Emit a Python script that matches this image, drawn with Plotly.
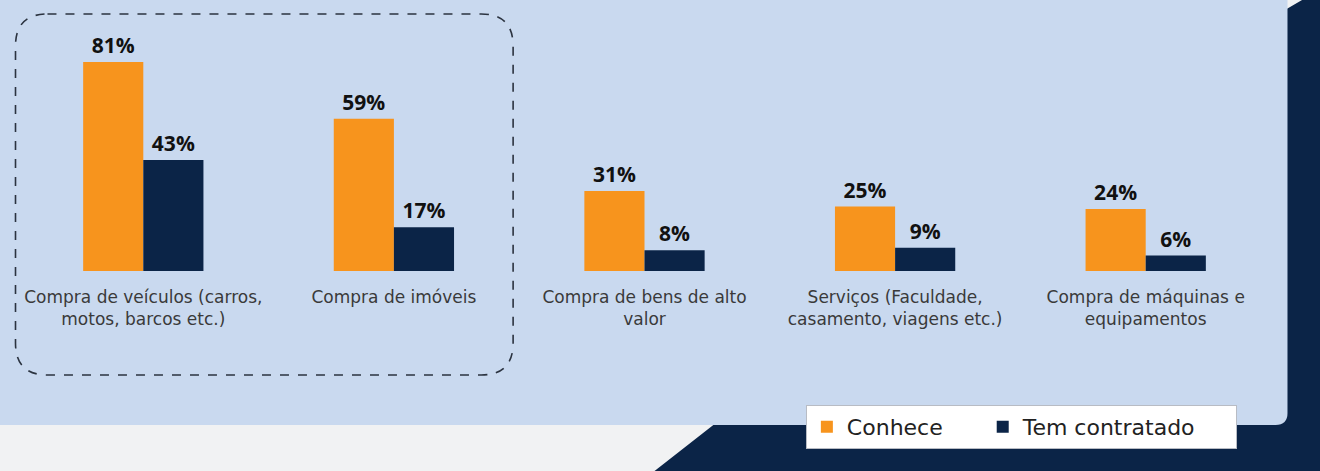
import plotly.graph_objects as go

# dados
categorias = [
    "Compra de veículos (carros,<br>motos, barcos etc.)",
    "Compra de imóveis",
    "Compra de bens de alto<br>valor",
    "Serviços (Faculdade,<br>casamento, viagens etc.)",
    "Compra de máquinas e<br>equipamentos",
]
conhece = [81, 59, 31, 25, 24]
tem_contratado = [43, 17, 8, 9, 6]

LARANJA = "#f7941d"
AZUL = "#0b2447"

W, H = 1320, 471
L, R, T, B = 17.5, 1271.5, 20, 271  # area do grafico em pixels


def px(x, y):
    # pixel -> coordenadas paper
    return (x - L) / (R - L), (B - y) / (B - T)


def caminho(pontos):
    s = ""
    for i, (x, y) in enumerate(pontos):
        a, b = px(x, y)
        s += ("M" if i == 0 else "L") + f"{a:.5f},{b:.5f} "
    return s + "Z"


def ret_arredondado(x0, y0, x1, y1, r):
    def p(x, y):
        a, b = px(x, y)
        return f"{a:.5f},{b:.5f}"
    return (f"M{p(x0 + r, y0)} L{p(x1 - r, y0)} Q{p(x1, y0)} {p(x1, y0 + r)} "
            f"L{p(x1, y1 - r)} Q{p(x1, y1)} {p(x1 - r, y1)} "
            f"L{p(x0 + r, y1)} Q{p(x0, y1)} {p(x0, y1 - r)} "
            f"L{p(x0, y0 + r)} Q{p(x0, y0)} {p(x0 + r, y0)} Z")


fig = go.Figure()
fig.add_bar(x=categorias, y=conhece, name="Conhece" + "\u00a0" * 5, marker_color=LARANJA,
            text=[f"{v}%" for v in conhece], textposition="outside")
fig.add_bar(x=categorias, y=tem_contratado, name="Tem contratado" + "\u00a0" * 5,
            marker_color=AZUL,
            text=[f"{v}%" for v in tem_contratado], textposition="outside")
fig.update_traces(marker_line_width=0, cliponaxis=False,
                  textfont=dict(family="Open Sans", size=21, color="#111111", weight="bold"))

shapes = [
    # fundo azul escuro
    dict(type="path", xref="paper", yref="paper", layer="below", line_width=0,
         fillcolor=AZUL,
         path=caminho([(652, 473), (1322, 473), (1322, -2), (1306, -2), (1282, 12),
                       (1278, 412), (730, 412)])),
    # painel azul claro
    dict(type="path", xref="paper", yref="paper", layer="below", line_width=0,
         fillcolor="#c9d9ef", path=ret_arredondado(-20, -40, 1288, 425, 12)),
    # destaque tracejado
    dict(type="path", xref="paper", yref="paper", layer="above",
         line=dict(color="#2b3340", width=1.6, dash="dash"),
         path=ret_arredondado(15, 14, 513, 375, 32)),
]

lx, ly = px(806, 405)
fig.update_layout(
    width=W, height=H,
    margin=dict(l=L, r=W - R, t=T, b=H - B, pad=0),
    paper_bgcolor="#f1f2f3",
    plot_bgcolor="rgba(0,0,0,0)",
    barmode="group",
    bargap=0.52,
    bargroupgap=0,
    shapes=shapes,
    showlegend=True,
    legend=dict(orientation="h", x=lx, y=ly, xanchor="left", yanchor="top",
                bgcolor="white", bordercolor="#b8bcc4", borderwidth=1,
                font=dict(family="DejaVu Sans", size=22, color="#222222"),
                itemwidth=30, traceorder="normal"),
    xaxis=dict(showgrid=False, showline=False, zeroline=False, ticks="",
               tickfont=dict(family="DejaVu Sans", size=17, color="#3a3a3a"),
               ticklabelstandoff=14),
    yaxis=dict(visible=False, range=[0, (B - T) / 2.58], fixedrange=True),
)

fig.write_html("out.html", config={"displayModeBar": False},
               post_script="document.body.style.margin='0';")
